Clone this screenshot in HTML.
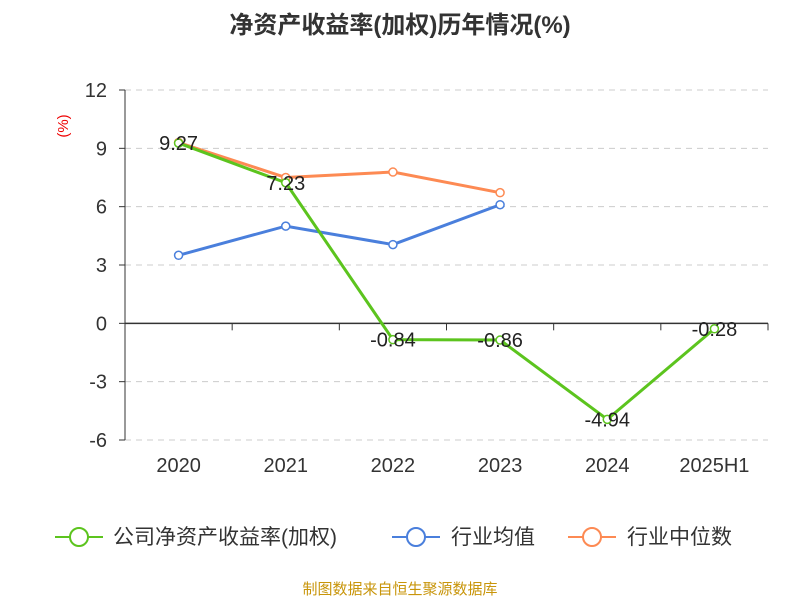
<!DOCTYPE html>
<html><head><meta charset="utf-8"><style>
body{margin:0;background:#fff;font-family:"Liberation Sans","Noto Sans CJK SC",sans-serif}
</style></head><body>
<svg id="c" width="800" height="600" xmlns="http://www.w3.org/2000/svg" font-family="Liberation Sans, Noto Sans CJK SC, sans-serif">
<text x="400" y="33" text-anchor="middle" font-size="24" font-weight="bold" fill="#333">净资产收益率(加权)历年情况(%)</text>
<text x="68" y="126" text-anchor="middle" font-size="15" fill="#e00" transform="rotate(-90 68 126)">(%)</text>
<g id="grid"></g><g id="series"></g>
<g>
<g><line x1="55" y1="537" x2="103" y2="537" stroke="#5cc41e" stroke-width="2"/><circle cx="79" cy="537" r="9" fill="#fff" stroke="#5cc41e" stroke-width="2"/><text x="113" y="544" font-size="21" fill="#333">公司净资产收益率(加权)</text></g>
<g><line x1="392" y1="537" x2="440" y2="537" stroke="#4a7fdc" stroke-width="2"/><circle cx="416" cy="537" r="9" fill="#fff" stroke="#4a7fdc" stroke-width="2"/><text x="451" y="544" font-size="21" fill="#333">行业均值</text></g>
<g><line x1="568" y1="537" x2="616" y2="537" stroke="#fd8a53" stroke-width="2"/><circle cx="592" cy="537" r="9" fill="#fff" stroke="#fd8a53" stroke-width="2"/><text x="627" y="544" font-size="21" fill="#333">行业中位数</text></g>
</g>
<text x="400" y="594" text-anchor="middle" font-size="15" fill="#c8950a">制图数据来自恒生聚源数据库</text>
</svg>
<script>
const categories=["2020","2021","2022","2023","2024","2025H1"];
const company=[9.27,7.23,-0.84,-0.86,-4.94,-0.28];
const industryAvg=[3.5,5.0,4.05,6.1];
const industryMedian=[9.3,7.5,7.78,6.72];
const yTicks=[12,9,6,3,0,-3,-6];
const NS="http://www.w3.org/2000/svg";
const x0=125,x1=768,bw=(x1-x0)/categories.length;
const X=i=>x0+bw*(i+0.5);
const Y=v=>90+(12-v)*(350/18);
const grid=document.getElementById('grid'),ser=document.getElementById('series');
function mk(p,tag,a){const e=document.createElementNS(NS,tag);for(const k in a)e.setAttribute(k,a[k]);p.appendChild(e);return e;}
yTicks.forEach(t=>{
 const g=mk(grid,'line',{x1:x0,x2:x1,y1:Y(t),y2:Y(t),stroke:t===0?'#333':'#ccc','stroke-dasharray':t===0?'':'6,5','stroke-width':t===0?1.5:1});
 
 
 const tk=mk(grid,'line',{x1:x0-6,x2:x0,y1:Y(t),y2:Y(t),stroke:'#333'});
 
 
 const tl=mk(grid,'text',{x:x0-18,y:Y(t)+7,'text-anchor':'end','font-size':20,fill:'#333'});tl.textContent=t;
 
 
});
const ya=mk(grid,'line',{x1:x0,x2:x0,y1:Y(12),y2:Y(-6),stroke:'#333'});


categories.forEach((c,i)=>{
 const tk=mk(grid,'line',{x1:x0+bw*(i+1),x2:x0+bw*(i+1),y1:Y(0),y2:Y(0)+7,stroke:'#333'});
 
 
 const t=mk(grid,'text',{x:X(i),y:472,'text-anchor':'middle','font-size':20,fill:'#333'});t.textContent=c;
 
 
});
function line(data,color,name,labels){
 const pl=mk(ser,'polyline',{points:data.map((v,i)=>X(i)+','+Y(v)).join(' '),fill:'none',stroke:color,'stroke-width':3});
 
 
 data.forEach((v,i)=>{
  const c=mk(ser,'circle',{cx:X(i),cy:Y(v),r:4,fill:'#fff',stroke:color,'stroke-width':1.5});
  
  
  if(labels){const t=mk(ser,'text',{x:X(i),y:Y(v)+7,'text-anchor':'middle','font-size':20,fill:'#222'});t.textContent=v.toFixed(2);
  
  }
 });
}
line(industryAvg,'#4a7fdc','industry-avg',false);
line(industryMedian,'#fd8a53','industry-median',false);
line(company,'#5cc41e','company',true);
</script>
</body></html>
